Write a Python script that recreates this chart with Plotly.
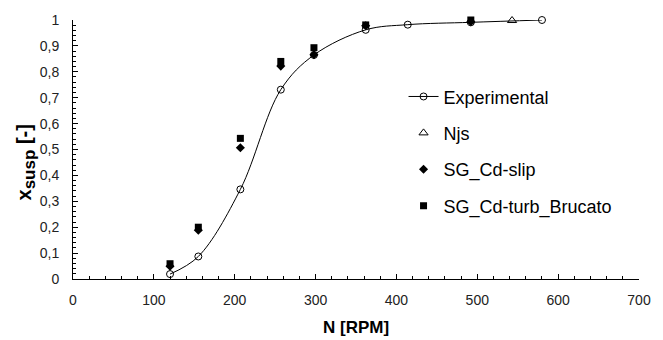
import plotly.graph_objects as go

# Impeller speed (RPM) and fraction of suspended solids
rpm_exp = [120, 155, 207, 257, 298, 362, 414, 492, 580]
x_exp = [0.019, 0.087, 0.346, 0.731, 0.865, 0.962, 0.982, 0.991, 1.0]

rpm_njs = [543]
x_njs = [0.998]

rpm_sim = [120, 155, 207, 257, 298, 362, 492]
x_slip = [0.049, 0.188, 0.507, 0.822, 0.866, 0.978, 0.993]
x_turb = [0.059, 0.200, 0.543, 0.840, 0.893, 0.981, 1.0]

x_ticks = [0, 100, 200, 300, 400, 500, 600, 700]
y_ticks = [0, 0.1, 0.2, 0.3, 0.4, 0.5, 0.6, 0.7, 0.8, 0.9, 1.0]
y_tick_text = ["0", "0,1", "0,2", "0,3", "0,4", "0,5", "0,6", "0,7", "0,8", "0,9", "1"]

FONT = "Liberation Sans, Arial, sans-serif"

fig = go.Figure()

fig.add_trace(go.Scatter(
    x=rpm_exp, y=x_exp, name="Experimental", mode="lines+markers",
    line=dict(color="black", width=1, shape="spline", smoothing=1.0),
    marker=dict(symbol="circle-open", size=7, color="black", line=dict(width=1)),
    cliponaxis=False, legendgroup="a",
))
fig.add_trace(go.Scatter(
    x=rpm_njs, y=x_njs, name="Njs", mode="markers",
    marker=dict(symbol="triangle-up-open", size=8, color="black", line=dict(width=1)),
    cliponaxis=False, legendgroup="b",
))
fig.add_trace(go.Scatter(
    x=rpm_sim, y=x_slip, name="SG_Cd-slip", mode="markers",
    marker=dict(symbol="diamond", size=7, color="black"),
    cliponaxis=False, legendgroup="c",
))
fig.add_trace(go.Scatter(
    x=rpm_sim, y=x_turb, name="SG_Cd-turb_Brucato", mode="markers",
    marker=dict(symbol="square", size=7, color="black"),
    cliponaxis=False, legendgroup="d",
))

fig.update_layout(
    width=663, height=340,
    margin=dict(l=73, r=13, t=15, b=61),
    paper_bgcolor="white", plot_bgcolor="white",
    font=dict(family=FONT, size=14, color="black"),
    showlegend=True,
    legend=dict(
        x=0.584, y=0.775, xanchor="left", yanchor="top",
        font=dict(size=18, color="black"),
        tracegroupgap=10, bgcolor="rgba(0,0,0,0)",
    ),
    xaxis=dict(
        range=[0, 700], tickvals=x_ticks, showgrid=False, zeroline=False,
        showline=True, linecolor="black", linewidth=1,
        ticks="inside", ticklen=5, tickcolor="black", tickwidth=1,
        minor=dict(dtick=20, ticks="inside", ticklen=3, tickcolor="black"),
        ticklabelstandoff=8,
        tickfont=dict(size=14, color="#222"),
    ),
    yaxis=dict(
        range=[0, 1], tickvals=y_ticks, ticktext=y_tick_text, showgrid=False,
        zeroline=False, showline=True, linecolor="black", linewidth=1,
        ticks="inside", ticklen=5, tickcolor="black", tickwidth=1,
        minor=dict(dtick=0.02, ticks="inside", ticklen=3, tickcolor="black"),
        ticklabelstandoff=10,
        tickfont=dict(size=14, color="#222"),
    ),
    annotations=[
        dict(text="<b>N [RPM]</b>", xref="paper", yref="paper",
             x=0.5, y=-0.186, xanchor="center", yanchor="middle",
             showarrow=False, font=dict(size=17, family=FONT)),
        dict(text="<b>x<sub><span style='font-size:17px'>susp</span></sub> [-]</b>",
             xref="paper", yref="paper",
             x=-0.083, y=0.45, xanchor="center", yanchor="middle", textangle=-90,
             showarrow=False, font=dict(size=20, family=FONT)),
    ],
)

fig.write_html("out.html")
